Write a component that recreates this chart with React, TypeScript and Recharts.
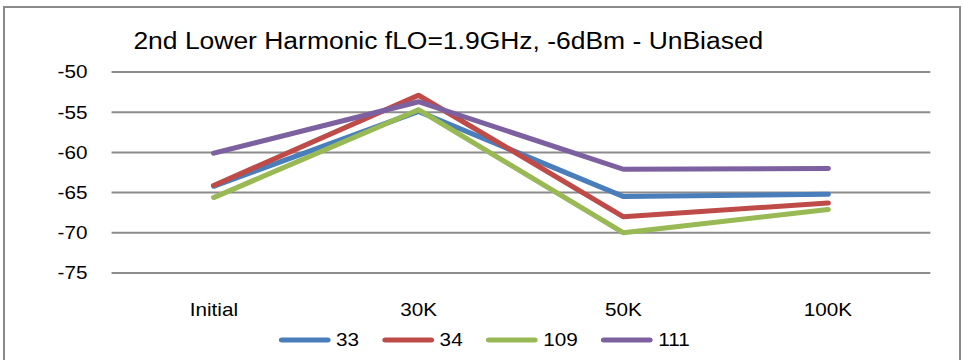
import { LineChart, Line, XAxis, YAxis, CartesianGrid, Legend } from "recharts";

const CATEGORIES = ["Initial", "30K", "50K", "100K"];
const S33 = [-64.2, -54.9, -65.5, -65.2];
const S34 = [-64.1, -52.9, -68.0, -66.3];
const S109 = [-65.6, -54.7, -70.0, -67.1];
const S111 = [-60.1, -53.7, -62.1, -62.0];
const Y_TICKS = [-75, -70, -65, -60, -55, -50];

const SERIES = [
  { key: "33", values: S33, color: "#4A7EBB" },
  { key: "34", values: S34, color: "#BE4B48" },
  { key: "109", values: S109, color: "#98B954" },
  { key: "111", values: S111, color: "#7D60A0" },
];

const DATA = CATEGORIES.map((name, i) => {
  const row: Record<string, string | number> = { name };
  SERIES.forEach((s) => {
    row["s" + s.key] = s.values[i];
  });
  return row;
});

const FONT = 'Arial, "Liberation Sans", sans-serif';
// the source image is stretched horizontally, so the whole chart is too
const STRETCH = 1.15;
const W = 838;
const H = 360;

function LegendContent() {
  return (
    <div
      style={{
        display: "flex",
        justifyContent: "center",
        alignItems: "center",
        gap: 20,
        height: 20,
        paddingLeft: 4,
        fontFamily: FONT,
        fontSize: 18,
        color: "#000",
      }}
    >
      {SERIES.map((s) => (
        <span key={s.key} style={{ display: "flex", alignItems: "center" }}>
          <svg width={46} height={8}>
            <line x1={3} x2={43} y1={4} y2={4} stroke={s.color} strokeWidth={5} strokeLinecap="round" />
          </svg>
          <span style={{ marginLeft: 4, lineHeight: "20px" }}>{s.key}</span>
        </span>
      ))}
    </div>
  );
}

export default function App() {
  return (
    <div style={{ position: "absolute", left: 0, top: 0, width: 963, height: 360, overflow: "hidden", background: "#fff" }}>
      <div
        style={{
          position: "absolute",
          left: 3,
          top: 6,
          width: 958,
          height: 400,
          border: "2px solid #8a8a8a",
          boxSizing: "border-box",
        }}
      />
      <div
        style={{
          position: "absolute",
          left: 0,
          top: 0,
          width: W,
          height: H,
          transform: `scaleX(${STRETCH})`,
          transformOrigin: "0 0",
        }}
      >
        <div
          style={{
            position: "absolute",
            left: 116,
            top: 30,
            fontFamily: FONT,
            fontSize: 23,
            lineHeight: "23px",
            whiteSpace: "nowrap",
            color: "#000",
          }}
        >
          2nd Lower Harmonic fLO=1.9GHz, -6dBm - UnBiased
        </div>
        <LineChart width={W} height={H} data={DATA} margin={{ top: 72, right: 29, bottom: 57, left: 0 }}>
          <CartesianGrid vertical={false} stroke="#8c8c8c" strokeWidth={2} />
          <XAxis
            dataKey="name"
            scale="band"
            height={30}
            axisLine={false}
            tickLine={false}
            tickSize={0}
            tickMargin={30}
            interval={0}
            tick={{ fill: "#000", fontSize: 18, fontFamily: FONT }}
          />
          <YAxis
            domain={[-75, -50]}
            ticks={Y_TICKS}
            width={97}
            axisLine={false}
            tickLine={false}
            tickSize={0}
            tickMargin={21}
            tick={{ fill: "#000", fontSize: 18, fontFamily: FONT }}
          />
          <Legend
            layout="horizontal"
            verticalAlign="middle"
            align="center"
            wrapperStyle={{ top: 330, left: 0, width: W }}
            content={<LegendContent />}
          />
          {SERIES.map((s) => (
            <Line
              key={s.key}
              dataKey={"s" + s.key}
              name={s.key}
              stroke={s.color}
              strokeWidth={5}
              strokeLinecap="round"
              strokeLinejoin="round"
              dot={false}
              activeDot={false}
              isAnimationActive={false}
            />
          ))}
        </LineChart>
      </div>
    </div>
  );
}
